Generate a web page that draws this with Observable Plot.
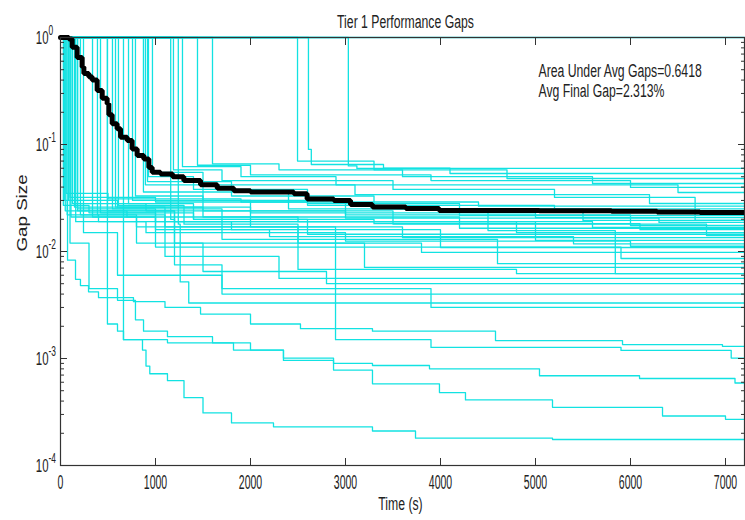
<!DOCTYPE html>
<html>
<head>
<meta charset="utf-8">
<script src="https://cdn.jsdelivr.net/npm/d3@7"></script>
<script src="https://cdn.jsdelivr.net/npm/@observablehq/plot@0.6"></script>
<style>
  html, body { margin: 0; padding: 0; background: #ffffff; }
  #chart { width: 745px; height: 520px; }
</style>
</head>
<body>
<div id="chart"></div>
<script>
// ---------- texts ----------
const titleText = "Tier 1 Performance Gaps";
const xLabel = "Time (s)";
const yLabel = "Gap Size";
const annotation = ["Area Under Avg Gaps=0.6418", "Avg Final Gap=2.313%"];

// ---------- axes ----------
const xTicks = [0, 1000, 2000, 3000, 4000, 5000, 6000, 7000];
const decades = [1e-4, 1e-3, 1e-2, 1e-1, 1];
const decadeExps = ["-4", "-3", "-2", "-1", "0"];
const minorMultipliers = [2, 3, 4, 5, 6, 7, 8, 9];

// ---------- average gap (black) ----------
const avgTime = [0, 70, 88, 123, 175, 228, 246, 298, 333, 386, 439, 491, 509, 544, 596, 632, 702, 754, 807, 877, 930, 965, 1053, 1180, 1298, 1474, 1650, 1825, 2000, 2456, 2596, 2877, 3053, 3284, 3635, 3986, 5040, 5800, 6280, 6730];
const avgGap  = [1, 1, 0.97, 0.81, 0.65, 0.53, 0.46, 0.43, 0.40, 0.32, 0.27, 0.24, 0.19, 0.156, 0.14, 0.117, 0.109, 0.091, 0.079, 0.073, 0.061, 0.055, 0.053, 0.050, 0.046, 0.042, 0.039, 0.037, 0.0359, 0.0346, 0.031, 0.030, 0.0275, 0.026, 0.0252, 0.0242, 0.0240, 0.0238, 0.0234, 0.02313];

// ---------- individual runs (cyan), [time, gap] steps ----------
const runsUpper = [
  [[0,1],[3030,0.063],[3120,0.0597]],
  [[0,1],[2610,0.09],[2640,0.065],[3400,0.060],[4100,0.0536]],
  [[0,1],[2495,0.07],[3300,0.058],[4700,0.0481]],
  [[0,1],[1600,0.066],[2300,0.058],[3600,0.050],[5600,0.0432]],
  [[0,1],[1442,0.064],[2000,0.052],[3900,0.046],[6000,0.0397]],
  [[0,1],[1284,0.062],[1900,0.050],[2900,0.042],[6500,0.0356]],
  [[0,1],[1189,0.058],[1700,0.046],[3500,0.038],[5200,0.032],[6680,0.0195]],
  [[0,1],[968,0.055],[1500,0.042],[3100,0.034],[6200,0.0281]],
  [[0,1],[926,0.050],[1400,0.038],[2600,0.028],[4200,0.0217]],
  [[0,1],[916,0.045],[1800,0.033],[3300,0.025],[5500,0.0195]],
  [[0,1],[894,0.042],[1500,0.030],[3000,0.022],[6000,0.0175]],
  [[0,1],[873,0.036],[2400,0.025],[4500,0.0157],[5840,0.0062]],
  [[0,1],[789,0.033],[1500,0.024],[3500,0.018],[6800,0.0141]],
  [[0,1],[758,0.030],[2000,0.019],[5000,0.0127]],
  [[0,1],[716,0.028],[1400,0.020],[2600,0.0145],[4000,0.0109]],
  [[0,1],[610,0.027],[1300,0.018],[2500,0.0120],[3800,0.0098]],
  [[0,1],[579,0.026],[1100,0.017],[2500,0.011],[5900,0.0086]],
  [[0,1],[547,0.025],[1700,0.013],[4600,0.0077]],
  [[0,1],[494,0.024],[1200,0.012],[3200,0.0071]],
  [[0,1],[421,0.023],[1000,0.011],[2500,0.0068],[4800,0.0062]],
  [[0,1],[389,0.022],[1100,0.009],[2300,0.0056]],
  [[0,1],[337,0.021],[800,0.012],[1500,0.0065],[2800,0.0050]],
  [[0,1],[1160,0.020],[1200,0.0075],[1700,0.0040]],
  [[0,1],[1240,0.018],[1260,0.0052],[1350,0.0033]],
  [[0,1],[242,0.015],[600,0.0060],[1700,0.0045],[3900,0.0030]],
  [[0,1],[7200,1]]
];
const runsEarly = [
  [[0,1],[84,0.030],[600,0.026],[2000,0.023],[5000,0.0207]],
  [[0,1],[126,0.028],[900,0.024],[3000,0.0205],[6300,0.0187]],
  [[0,1],[147,0.026],[1500,0.021],[4200,0.0165]],
  [[0,1],[179,0.024],[1200,0.019],[4800,0.0150]],
  [[0,1],[210,0.022],[800,0.017],[3600,0.0135]],
  [[0,1],[100,0.032],[1000,0.029],[2600,0.027],[5200,0.0250]],
  [[0,1],[60,0.035],[500,0.031],[1900,0.029],[4400,0.0265]],
  [[0,1],[50,0.024],[700,0.021],[2500,0.019],[5600,0.0168]],
  [[0,1],[70,0.022],[400,0.019],[1800,0.016],[4000,0.0145]],
  [[0,1],[30,0.027],[300,0.023],[1400,0.020],[3300,0.0182],[6100,0.0160]],
  [[0,1],[110,0.021],[1000,0.016],[2200,0.0138],[5400,0.0118]],
  [[0,1],[160,0.019],[900,0.015],[3000,0.0125],[6000,0.0112]]
];
const runsLower = [
  [[0,1],[40,0.03],[74,0.0083],[158,0.0055],[210,0.0048],[295,0.0042],[400,0.0037],[768,0.0034],[1100,0.0030],[1474,0.0026],[2000,0.0021],[2526,0.0019],[3284,0.0018],[4579,0.00147],[5916,0.00135],[6968,0.0013]],
  [[0,1],[494,0.0021],[600,0.0018],[663,0.0015],[1126,0.0014],[1821,0.0012],[2347,0.00101],[2874,0.0009],[3284,0.00086],[3884,0.0008],[5042,0.00069],[6095,0.00065],[7100,0.00059]],
  [[0,1],[100,0.012],[300,0.0045],[600,0.0035],[789,0.0023],[874,0.0018],[1126,0.0016],[1600,0.0014],[2000,0.0012],[2347,0.00096],[2874,0.00078],[3284,0.00058],[3989,0.00048],[4263,0.00041],[5179,0.00035],[6337,0.00029],[7000,0.00027]],
  [[0,1],[663,0.0015],[863,0.0012],[900,0.00085],[940,0.00072],[1126,0.00062],[1300,0.00043],[1500,0.00031],[1800,0.00025],[2242,0.00023],[3284,0.00021],[3737,0.00018],[5179,0.000175]],
  [[0,1],[180,0.025],[1000,0.019],[2000,0.017],[2895,0.0015],[3900,0.00127],[5900,0.00119],[7060,0.00101]]
];

// ---------- build tables ----------
const xMax = 7200;
const allRuns = [...runsUpper, ...runsEarly, ...runsLower];
const runTable = allRuns.flatMap((r, k) => {
  const pts = r.slice();
  const last = pts[pts.length - 1];
  if (last[0] < xMax) pts.push([xMax, last[1]]);
  return pts.map(([t, g]) => ({run: k, t, g}));
});
const avgTable = avgTime.map((t, i) => ({t, g: avgGap[i]}));
avgTable.push({t: xMax, g: avgGap[avgGap.length - 1]});
const minorTicks = decades.slice(0, -1).flatMap(d => minorMultipliers.map(m => d * m));
const decadeTable = decades.map((d, i) => ({d, e: decadeExps[i]}));

const axisColor = "#333333";
const cyan = "#12e2e2";

const chart = Plot.plot({
  width: 745,
  height: 520,
  marginTop: 37,
  marginBottom: 55,
  marginLeft: 60,
  marginRight: 1,
  style: {fontFamily: "'Liberation Sans', Arial, sans-serif", background: "#ffffff", color: "#111"},
  x: {domain: [0, xMax]},
  y: {type: "log", domain: [1e-4, 1]},
  marks: [
    Plot.line(runTable, {x: "t", y: "g", z: "run", curve: "step-after", stroke: cyan, strokeWidth: 1.3}),
    Plot.line(avgTable, {x: "t", y: "g", curve: "step-after", stroke: "#000", strokeWidth: 5, strokeLinejoin: "miter"}),
    Plot.frame({stroke: axisColor, strokeWidth: 1.2}),
    Plot.axisX(xTicks, {anchor: "bottom", tickSize: -7, tickPadding: 16, fontSize: 21, stroke: axisColor, fill: "#222", tickFormat: d => String(d), label: null}),
    Plot.axisX(xTicks, {anchor: "top", tickSize: -7, tickFormat: () => "", stroke: axisColor, label: null}),
    Plot.axisY(decades, {anchor: "left", tickSize: -7, tickFormat: () => "", stroke: axisColor, label: null}),
    Plot.axisY(minorTicks, {anchor: "left", tickSize: -4, tickFormat: () => "", stroke: axisColor, label: null}),
    Plot.axisY(decades, {anchor: "right", tickSize: -7, tickFormat: () => "", stroke: axisColor, label: null}),
    Plot.axisY(minorTicks, {anchor: "right", tickSize: -4, tickFormat: () => "", stroke: axisColor, label: null}),
    Plot.text(decadeTable, {y: "d", text: () => "10", frameAnchor: "left", dx: -12, textAnchor: "end", fontSize: 19, fill: "#222"}),
    Plot.text(decadeTable, {y: "d", text: "e", frameAnchor: "left", dx: -12, dy: -7, textAnchor: "start", fontSize: 14, fill: "#222"}),
    Plot.text([titleText], {text: d => d, frameAnchor: "top", dx: 3, dy: -22, fontSize: 18, fill: "#222"}),
    Plot.text([xLabel], {text: d => d, frameAnchor: "bottom", dx: -2, dy: 44, fontSize: 18, fill: "#222"}),
    Plot.text([yLabel], {text: d => d, frameAnchor: "left", dx: -38, rotate: -90, fontSize: 15, fill: "#222"}),
    Plot.text([annotation.join("\n")], {text: d => d, frameAnchor: "top-left", dx: 478, dy: 43, textAnchor: "start", lineAnchor: "middle", lineHeight: 1.12, fontSize: 18, fill: "#222"})
  ]
});

document.getElementById("chart").appendChild(chart);

// reproduce the original's anisotropic glyph shapes (narrow along the baseline)
const scaleForSize = {21: 0.5, 19: 0.6, 14: 0.6, 18: 0.68, 15: 1.25};
for (const t of chart.querySelectorAll("text")) {
  const fs = Math.round(parseFloat(getComputedStyle(t).fontSize));
  const s = scaleForSize[fs];
  if (!s) continue;
  const tr = t.getAttribute("transform") || "";
  t.setAttribute("transform", (tr + ` scale(${s},1)`).trim());
}
</script>
</body>
</html>
